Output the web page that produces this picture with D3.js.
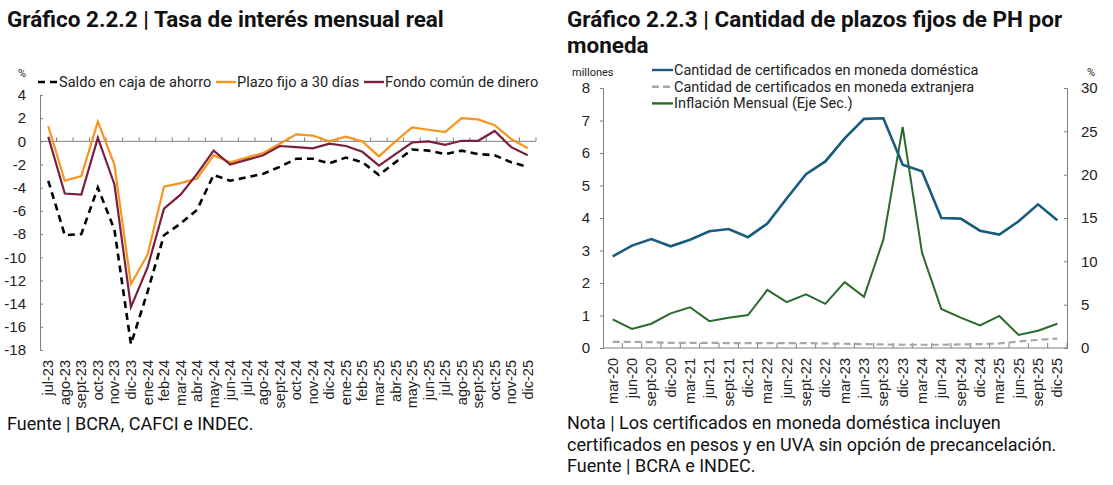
<!DOCTYPE html>
<html>
<head>
<meta charset="utf-8">
<script src="https://cdn.jsdelivr.net/npm/d3@7"></script>
<style>
  body { margin: 0; background: #fff; }
  svg { display: block; font-family: Roboto, "Noto Sans", sans-serif; }
</style>
</head>
<body>
<div id="chart"></div>
<script>
// ---- data: Gráfico 2.2.2 (monthly real rates, %)
const months = ["jul-23","ago-23","sept-23","oct-23","nov-23","dic-23","ene-24","feb-24","mar-24","abr-24",
  "may-24","jun-24","jul-24","ago-24","sept-24","oct-24","nov-24","dic-24","ene-25","feb-25",
  "mar-25","abr-25","may-25","jun-25","jul-25","ago-25","sept-25","oct-25","nov-25","dic-25"];
const saldo = [-3.4,-8.1,-8.0,-4.0,-7.6,-17.5,-13.0,-8.1,-7.1,-5.9,-2.9,-3.4,-3.1,-2.8,-2.2,
  -1.5,-1.5,-1.9,-1.4,-1.8,-2.9,-1.8,-0.7,-0.8,-1.1,-0.8,-1.1,-1.2,-1.8,-2.2];
const plazo = [1.3,-3.4,-3.0,1.7,-2.0,-12.3,-9.8,-3.9,-3.6,-3.2,-1.2,-1.8,-1.4,-1.0,-0.2,
  0.6,0.5,0.0,0.4,0.0,-1.3,0.0,1.2,1.0,0.8,2.0,1.9,1.4,0.2,-0.6];
const fondo = [0.4,-4.5,-4.6,0.3,-3.7,-14.3,-10.9,-5.8,-4.6,-2.8,-0.8,-2.0,-1.6,-1.2,-0.4,
  -0.5,-0.6,-0.2,-0.4,-0.9,-2.1,-1.1,-0.1,0.0,-0.3,0.05,0.05,0.9,-0.5,-1.2];
const leftTicks = [4,2,0,-2,-4,-6,-8,-10,-12,-14,-16,-18];

// ---- data: Gráfico 2.2.3 (millions of certificates, inflation %)
const quarters = ["mar-20","jun-20","sept-20","dic-20","mar-21","jun-21","sept-21","dic-21",
  "mar-22","jun-22","sept-22","dic-22","mar-23","jun-23","sept-23","dic-23",
  "mar-24","jun-24","sept-24","dic-24","mar-25","jun-25","sept-25","dic-25"];
const domestica = [2.82,3.15,3.35,3.13,3.33,3.59,3.66,3.41,3.83,4.6,5.35,5.74,
  6.45,7.05,7.07,5.64,5.44,4.0,3.98,3.61,3.49,3.9,4.42,3.93];
const extranjera = [0.19,0.19,0.18,0.16,0.16,0.16,0.15,0.15,0.15,0.15,0.15,0.14,
  0.13,0.12,0.11,0.10,0.10,0.10,0.11,0.12,0.14,0.20,0.25,0.29];
const inflacion = [3.3,2.2,2.8,4.0,4.7,3.1,3.5,3.8,6.7,5.3,6.2,5.1,
  7.6,5.9,12.5,25.5,11.0,4.5,3.5,2.6,3.7,1.5,2.0,2.8];
const rightTicksL = [0,1,2,3,4,5,6,7,8];
const rightTicksR = [0,5,10,15,20,25,30];

const width = 1113, height = 485;
const axisColor = "#808080";

const svg = d3.select("#chart").append("svg")
  .attr("width", width)
  .attr("height", height);

svg.append("rect").attr("width", width).attr("height", height).attr("fill", "#fff");

// ================= left chart =================
{
  const x = d3.scaleBand().domain(months).range([40, 536]);
  const y = d3.scaleLinear().domain([-18, 4]).range([350, 95]);

  svg.append("text")
    .attr("x", 7).attr("y", 27)
    .attr("font-size", "22.5px").attr("font-weight", "bold")
    .attr("fill", "#111")
    .text("Gráfico 2.2.2 | Tasa de interés mensual real");

  svg.append("text")
    .attr("x", 18).attr("y", 77)
    .attr("font-size", "11px").attr("fill", "#222")
    .text("%");

  // y axis
  const gy = svg.append("g")
    .attr("transform", "translate(40,0)")
    .call(d3.axisLeft(y).tickValues(leftTicks).tickSize(-3).tickPadding(14).tickFormat(d3.format("d")));
  gy.selectAll("path, line").attr("stroke", axisColor);
  gy.selectAll("text").attr("font-size", "15px").attr("fill", "#222")
    .text(d => String(d));

  // zero line with inner ticks between months
  svg.append("line")
    .attr("x1", 40).attr("x2", x.range()[1])
    .attr("y1", y(0)).attr("y2", y(0))
    .attr("stroke", axisColor);
  svg.append("g").selectAll("line")
    .data(months)
    .join("line")
    .attr("x1", d => x(d) + x.step()).attr("x2", d => x(d) + x.step())
    .attr("y1", y(0)).attr("y2", y(0) - 4)
    .attr("stroke", axisColor);

  // x labels
  const gx = svg.append("g")
    .attr("transform", `translate(0,${y.range()[0]})`)
    .call(d3.axisBottom(x).tickSize(0));
  gx.select(".domain").remove();
  gx.selectAll("text")
    .attr("font-size", "14.5px").attr("fill", "#222")
    .attr("text-anchor", "end")
    .attr("transform", "rotate(-90)")
    .attr("x", -10).attr("y", 0).attr("dy", "0.35em");

  const line = (vals) => d3.line()
    .x((d, i) => x(months[i]) + x.bandwidth() / 2)
    .y(d => y(d))(vals);

  svg.append("path").attr("d", line(saldo))
    .attr("fill", "none").attr("stroke", "#000").attr("stroke-width", 2.6)
    .attr("stroke-dasharray", "7,5");
  svg.append("path").attr("d", line(plazo))
    .attr("fill", "none").attr("stroke", "#F7941D").attr("stroke-width", 2.2);
  svg.append("path").attr("d", line(fondo))
    .attr("fill", "none").attr("stroke", "#7A1F3D").attr("stroke-width", 2.2);

  // legend
  const leg = [
    { name: "Saldo en caja de ahorro", color: "#000", dash: "7,5", x0: 38 },
    { name: "Plazo fijo a 30 días", color: "#F7941D", dash: null, x0: 216 },
    { name: "Fondo común de dinero", color: "#7A1F3D", dash: null, x0: 364 }
  ];
  const lg = svg.append("g").selectAll("g").data(leg).join("g")
    .attr("transform", d => `translate(${d.x0},82)`);
  lg.append("line").attr("x1", 0).attr("x2", 20)
    .attr("stroke", d => d.color).attr("stroke-width", 2.4)
    .attr("stroke-dasharray", d => d.dash);
  lg.append("text").attr("x", 21).attr("y", 5)
    .attr("font-size", "14.6px").attr("fill", "#222")
    .text(d => d.name);

  svg.append("text")
    .attr("x", 7).attr("y", 430)
    .attr("font-size", "18px").attr("fill", "#111")
    .text("Fuente | BCRA, CAFCI e INDEC.");
}

// ================= right chart =================
{
  const x = d3.scaleBand().domain(quarters).range([603, 1067]);
  const y = d3.scaleLinear().domain([0, 8]).range([348, 88]);
  const y2 = d3.scaleLinear().domain([0, 30]).range([348, 88]);

  svg.append("text")
    .attr("x", 567).attr("y", 27)
    .attr("font-size", "22.5px").attr("font-weight", "bold").attr("fill", "#111")
    .text("Gráfico 2.2.3 | Cantidad de plazos fijos de PH por");
  svg.append("text")
    .attr("x", 567).attr("y", 53)
    .attr("font-size", "22.5px").attr("font-weight", "bold").attr("fill", "#111")
    .text("moneda");

  svg.append("text").attr("x", 572).attr("y", 76)
    .attr("font-size", "11px").attr("fill", "#222").text("millones");
  svg.append("text").attr("x", 1087).attr("y", 76)
    .attr("font-size", "11px").attr("fill", "#222").text("%");

  const gyl = svg.append("g")
    .attr("transform", "translate(603,0)")
    .call(d3.axisLeft(y).tickValues(rightTicksL).tickSize(3).tickPadding(10));
  gyl.selectAll("path, line").attr("stroke", axisColor);
  gyl.selectAll("text").attr("font-size", "15px").attr("fill", "#222");

  const gyr = svg.append("g")
    .attr("transform", "translate(1067,0)")
    .call(d3.axisRight(y2).tickValues(rightTicksR).tickSize(-3).tickPadding(14));
  gyr.selectAll("path, line").attr("stroke", axisColor);
  gyr.selectAll("text").attr("font-size", "15px").attr("fill", "#222");

  // bottom axis line and ticks
  svg.append("line")
    .attr("x1", x.range()[0]).attr("x2", x.range()[1])
    .attr("y1", y(0)).attr("y2", y(0))
    .attr("stroke", axisColor);
  svg.append("g").selectAll("line")
    .data(quarters)
    .join("line")
    .attr("x1", d => x(d) + x.step()).attr("x2", d => x(d) + x.step())
    .attr("y1", y(0)).attr("y2", y(0) - 5)
    .attr("stroke", axisColor);

  const gx = svg.append("g")
    .attr("transform", `translate(0,${y(0)})`)
    .call(d3.axisBottom(x).tickSize(0));
  gx.select(".domain").remove();
  gx.selectAll("text")
    .attr("font-size", "14.5px").attr("fill", "#222")
    .attr("text-anchor", "end")
    .attr("transform", "rotate(-90)")
    .attr("x", -10).attr("y", 0).attr("dy", "0.35em");

  const cx = (d, i) => x(quarters[i]) + x.bandwidth() / 2;

  svg.append("path")
    .attr("d", d3.line().x(cx).y(d => y(d))(extranjera))
    .attr("fill", "none").attr("stroke", "#A6A6A6").attr("stroke-width", 2.2)
    .attr("stroke-dasharray", "7,4");
  svg.append("path")
    .attr("d", d3.line().x(cx).y(d => y2(d))(inflacion))
    .attr("fill", "none").attr("stroke", "#2A6A2A").attr("stroke-width", 2);
  svg.append("path")
    .attr("d", d3.line().x(cx).y(d => y(d))(domestica))
    .attr("fill", "none").attr("stroke", "#175C7E").attr("stroke-width", 2.6);

  const leg = [
    { name: "Cantidad de certificados en moneda doméstica", color: "#175C7E", dash: null },
    { name: "Cantidad de certificados en moneda extranjera", color: "#A6A6A6", dash: "7,4" },
    { name: "Inflación Mensual (Eje Sec.)", color: "#2A6A2A", dash: null }
  ];
  const lg = svg.append("g").selectAll("g").data(leg).join("g")
    .attr("transform", (d, i) => `translate(652,${70 + i * 16.7})`);
  lg.append("line").attr("x1", 0).attr("x2", 21)
    .attr("stroke", d => d.color).attr("stroke-width", 2.4)
    .attr("stroke-dasharray", d => d.dash);
  lg.append("text").attr("x", 22).attr("y", 5)
    .attr("font-size", "14.5px").attr("fill", "#222")
    .text(d => d.name);

  const notes = [
    "Nota | Los certificados en moneda doméstica incluyen",
    "certificados en pesos y en UVA sin opción de precancelación.",
    "Fuente | BCRA e INDEC."
  ];
  svg.append("g").selectAll("text").data(notes).join("text")
    .attr("x", 567).attr("y", (d, i) => 429 + i * 21.7)
    .attr("font-size", "18px").attr("fill", "#111")
    .text(d => d);
}
</script>
</body>
</html>
